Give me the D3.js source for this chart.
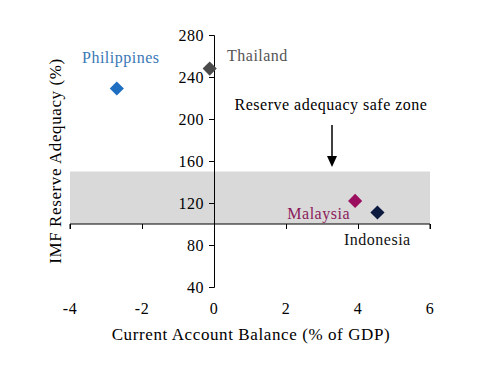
<!DOCTYPE html>
<html><head><meta charset="utf-8">
<script src="https://cdn.jsdelivr.net/npm/d3@7"></script>
<style>body{margin:0;background:#fff}svg{display:block}</style>
</head><body><svg id="c" width="478" height="381"></svg>
<script>
const countries = ["Philippines","Thailand","Malaysia","Indonesia"];
const currentAccount = [-2.7, -0.12, 3.92, 4.54];
const reserveAdequacy = [229, 248, 122, 111];
const pointColors = ["#1e6fc2","#4a4a4a","#9b0e5f","#0c1a3f"];
const labelColors = ["#3a78b5","#555555","#8b1a5a","#111111"];
const xTicks = [-4,-2,0,2,4,6];
const yTicks = [40,80,120,160,200,240,280];
const safeZone = [100,150];

const FONT = "'Liberation Serif', 'Times New Roman', Times, serif";
const svg = d3.select("#c").attr("font-family",FONT);
const x = d3.scaleLinear().domain([-4,6]).range([70,430]);
const y = d3.scaleLinear().domain([40,280]).range([287,35]);

// safe zone band
svg.append("rect").attr("x",x(-4)).attr("width",x(6)-x(-4))
  .attr("y",y(safeZone[1])).attr("height",y(safeZone[0])-y(safeZone[1]))
  .attr("fill","#d9d9d9");

// x axis at y=100
const xa = svg.append("g").attr("transform",`translate(0,${y(100)})`)
  .call(d3.axisBottom(x).tickValues(xTicks).tickSize(5).tickFormat(""));
xa.select(".domain").attr("stroke","#000").attr("d",`M${x(-4)},5V0H${x(6)}V5`);
xa.selectAll(".tick line").attr("stroke","#000");
// x tick labels at bottom
svg.append("g").selectAll("text").data(xTicks).join("text")
  .attr("font-family",FONT)
  .attr("x",d=>x(d)).attr("y",314).attr("text-anchor","middle")
  .attr("font-size",16).attr("letter-spacing",0.5).attr("fill","#000").text(d=>d);

// y axis at x=0
const ya = svg.append("g").attr("transform",`translate(${x(0)},0)`)
  .call(d3.axisLeft(y).tickValues(yTicks).tickSize(5).tickPadding(5));
ya.attr("font-family",FONT);
ya.select(".domain").attr("stroke","#000");
ya.selectAll(".tick line").attr("stroke","#000");
ya.selectAll(".tick text").attr("font-size",16).attr("letter-spacing",0.5)
  .attr("fill","#000").attr("font-family",FONT);

// axis titles
svg.append("text").attr("font-family",FONT).attr("x",251).attr("y",340).attr("text-anchor","middle")
  .attr("font-size",17).attr("letter-spacing",0.6).attr("fill","#000")
  .text("Current Account Balance (% of GDP)");
svg.append("text").attr("font-family",FONT).attr("transform","translate(61,161) rotate(-90)")
  .attr("text-anchor","middle").attr("font-size",17).attr("letter-spacing",0.6)
  .attr("fill","#000").text("IMF Reserve Adequacy (%)");

// points
svg.append("g").selectAll("path").data(countries).join("path")
  .attr("d",d3.symbol().type(d3.symbolSquare).size(100))
  .attr("transform",(d,i)=>`translate(${x(currentAccount[i])},${y(reserveAdequacy[i])}) rotate(45)`)
  .attr("fill",(d,i)=>pointColors[i]);

// labels
const labelPos = [[82,63,"start"],[227,61,"start"],[350,219,"end"],[344,245,"start"]];
svg.append("g").selectAll("text").data(countries).join("text")
  .attr("font-family",FONT)
  .attr("x",(d,i)=>labelPos[i][0]).attr("y",(d,i)=>labelPos[i][1])
  .attr("text-anchor",(d,i)=>labelPos[i][2])
  .attr("font-size",16).attr("letter-spacing",0.5)
  .attr("fill",(d,i)=>labelColors[i]).text(d=>d);

// annotation
svg.append("text").attr("font-family",FONT).attr("x",331).attr("y",110).attr("text-anchor","middle")
  .attr("font-size",16).attr("letter-spacing",0.5).attr("fill","#000")
  .text("Reserve adequacy safe zone");
svg.append("line").attr("x1",332).attr("x2",332).attr("y1",125).attr("y2",158)
  .attr("stroke","#000").attr("stroke-width",1.5);
svg.append("path").attr("d","M327,156L337,156L332,167Z").attr("fill","#000");
</script></body></html>
